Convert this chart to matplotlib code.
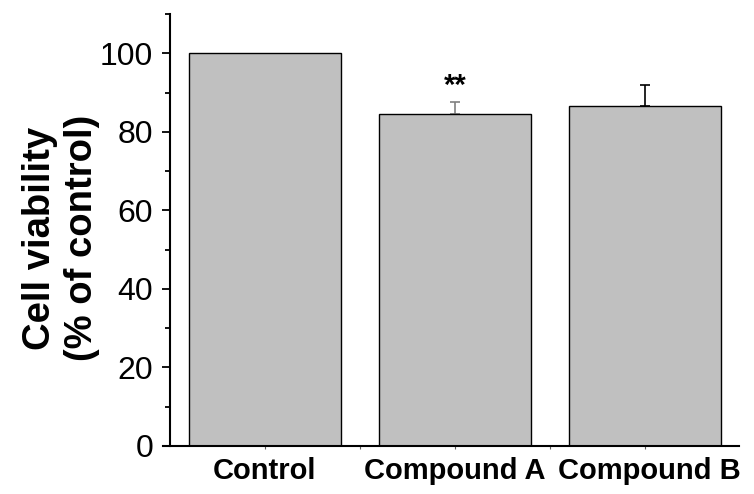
import numpy as np
import matplotlib
matplotlib.use('Agg')
import matplotlib.pyplot as plt
from matplotlib.ticker import MultipleLocator, FixedLocator
from matplotlib.transforms import offset_copy

# Cell viability after treatment, % of control
groups = ['Control', 'Compound A', 'Compound B']
viability = [100.0, 84.6, 86.5]
sem_upper = [0.0, 2.9, 5.4]
err_colors = ['black', '#808080', 'black']
stars = ['', '**', '']

plt.rcParams['font.family'] = ['Liberation Sans', 'DejaVu Sans']

fig = plt.figure(figsize=(7.54, 4.94), dpi=100)
ax = fig.add_axes([0.2158, 0.0972, 0.7643, 0.8745])

x = np.arange(len(groups))
ax.bar(x, viability, width=0.8, color='#c0c0c0', edgecolor='black',
       linewidth=1.0, zorder=2)

for xi, v, e, c, s in zip(x, viability, sem_upper, err_colors, stars):
    if e > 0:
        ax.errorbar(xi, v, yerr=[[0], [e]], fmt='none', ecolor=c,
                    elinewidth=1.2, capsize=3.3, capthick=1.2, zorder=1)
    if s:
        ax.text(xi, v + e + 0.6, s, ha='center', va='bottom',
                fontsize=21, fontweight='bold')

ax.set_xlim(-0.538, 2.495)
ax.set_ylim(0, 110)

ax.spines['top'].set_visible(False)
ax.spines['right'].set_visible(False)
ax.spines['left'].set_position(('data', -0.5))
ax.spines['left'].set_bounds(0, 110)
ax.spines['left'].set_linewidth(1.5)
ax.spines['bottom'].set_linewidth(1.5)

ax.yaxis.set_major_locator(MultipleLocator(20))
ax.yaxis.set_minor_locator(FixedLocator([10, 30, 50, 70, 90, 110]))
ax.tick_params(axis='y', which='major', direction='out', length=6,
               width=1.3, labelsize=23, pad=6)
ax.tick_params(axis='y', which='minor', direction='out', length=3.6,
               width=1.3)

ax.set_xticks(x)
ax.set_xticklabels(groups, fontweight='bold')
ax.xaxis.set_minor_locator(FixedLocator([0.5, 1.5]))
ax.tick_params(axis='x', which='both', direction='out', length=2,
               width=0.8, color='#606060', labelsize=21, pad=6)

# last label sits a little to the right of its bar
last = ax.get_xticklabels()[-1]
last.set_transform(offset_copy(last.get_transform(), fig=fig, x=4, y=0,
                               units='dots'))

ax.set_ylabel('Cell viability\n(% of control)', fontsize=27.5,
              fontweight='bold', linespacing=1.2)
ax.yaxis.set_label_coords(-0.109, 0.481)

fig.savefig('out.png', dpi=100)
